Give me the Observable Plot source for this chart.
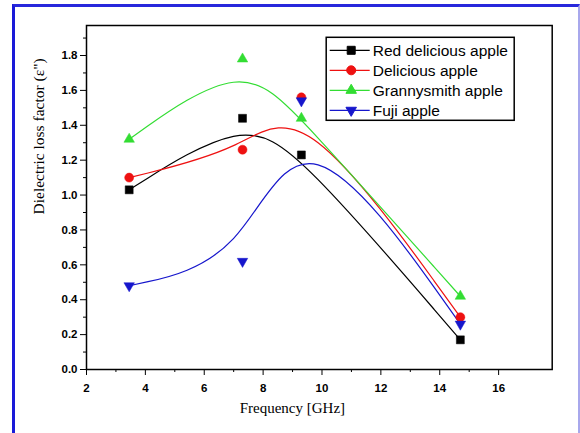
<!DOCTYPE html>
<html>
<head>
<meta charset="utf-8">
<script src="https://cdn.jsdelivr.net/npm/d3@7"></script>
<script src="https://cdn.jsdelivr.net/npm/@observablehq/plot@0.6"></script>
<style>
  html, body { margin: 0; padding: 0; background: #fff; overflow: hidden; }
  #wrap { position: relative; width: 580px; height: 433px; background: #fff; }
  #wrap svg { position: absolute; left: 0; top: 0; background: #fff; }
  #border {
    position: absolute; left: 12px; top: 4px; width: 563px; height: 426px;
    border-left: 3px solid #1a1ad8; border-top: 3px solid #2828dc;
    border-right: 2px solid #a8a8ec; border-bottom: 2px solid #a8a8ec;
    pointer-events: none;
  }
</style>
</head>
<body>
<div id="wrap"><div id="border"></div></div>
<script>
// ---- data ----
const freq = [3.45, 7.3, 9.3, 14.7];
const redDelicious = [1.03, 1.44, 1.23, 0.17];
const delicious = [1.10, 1.26, 1.56, 0.30];
const grannySmith = [1.32, 1.78, 1.44, 0.42];
const fuji = [0.48, 0.62, 1.54, 0.26];
const seriesNames = ["Red delicious apple", "Delicious apple", "Grannysmith apple", "Fuji apple"];
const seriesColors = ["#000000", "#ee1111", "#33dd33", "#1616cc"];
const xTicks = [2, 4, 6, 8, 10, 12, 14, 16];
const xMinorTicks = [3, 5, 7, 9, 11, 13, 15];
const yTicks = [0, 0.2, 0.4, 0.6, 0.8, 1.0, 1.2, 1.4, 1.6, 1.8];
const yMinorTicks = [0.1, 0.3, 0.5, 0.7, 0.9, 1.1, 1.3, 1.5, 1.7, 1.9];
const xLabel = "Frequency [GHz]";
const yLabel = "Dielectric loss factor (ε\")";

const seriesValues = [redDelicious, delicious, grannySmith, fuji];

const triangleDown = {
  draw(context, size) {
    const s3 = Math.sqrt(3);
    const y = -Math.sqrt(size / (s3 * 3));
    context.moveTo(0, -y * 2);
    context.lineTo(-s3 * y, y);
    context.lineTo(s3 * y, y);
    context.closePath();
  }
};
const seriesSymbols = ["square", "circle", "triangle", triangleDown];
const seriesR = [4.5, 4.5, 3.9, 3.9];

const series = seriesNames.map((name, si) =>
  freq.map((f, i) => ({series: name, freq: f, value: seriesValues[si][i]}))
);

const tickFont = {fontFamily: "Liberation Sans, Arial, sans-serif", fontSize: 11.5, fontWeight: "bold"};

function legendMark(index, scales, values, dimensions) {
  const {width, marginRight, marginTop} = dimensions;
  const frameRight = width - marginRight;
  const bw = 188, bh = 83;
  const x0 = frameRight - 37.5 - bw, y0 = marginTop + 12.3;
  const g = d3.create("svg:g").attr("text-anchor", "start");
  g.append("rect").attr("x", x0).attr("y", y0).attr("width", bw).attr("height", bh)
    .attr("fill", "#fff").attr("stroke", "#000").attr("stroke-width", 1.5);
  seriesNames.forEach((name, i) => {
    const cy = y0 + 13 + 20 * i;
    const col = seriesColors[i];
    g.append("line").attr("x1", x0 + 3.5).attr("x2", x0 + 43.5).attr("y1", cy).attr("y2", cy)
      .attr("stroke", col).attr("stroke-width", 1.3);
    const sym = seriesSymbols[i];
    const type = typeof sym === "string"
      ? ({square: d3.symbolSquare, circle: d3.symbolCircle, triangle: d3.symbolTriangle})[sym]
      : sym;
    const r = seriesR[i];
    g.append("path").attr("transform", `translate(${x0 + 25},${cy})`)
      .attr("d", d3.symbol(type, Math.PI * r * r)())
      .attr("fill", col).attr("stroke", col);
    g.append("text").attr("x", x0 + 46.5).attr("y", cy).attr("dy", "0.35em")
      .attr("text-anchor", "start")
      .attr("font-family", "Liberation Sans, Arial, sans-serif").attr("font-size", 15.5)
      .attr("fill", "#000").text(name);
  });
  return g.node();
}

const marks = [
  Plot.frame({stroke: "#000", strokeWidth: 1.5}),
  Plot.axisX({ticks: xTicks, tickSize: 6, tickPadding: 8, tickFormat: d3.format("d"), label: null, ...tickFont}),
  Plot.axisX({ticks: xMinorTicks, tickSize: 3, tickFormat: () => "", label: null}),
  Plot.axisY({ticks: yTicks, tickSize: 6, tickPadding: 3, tickFormat: d3.format(".1f"), label: null, ...tickFont}),
  Plot.axisY({ticks: yMinorTicks, tickSize: 3, tickFormat: () => "", label: null}),
  Plot.text([xLabel], {text: d => d, frameAnchor: "bottom", dx: -27, dy: 43,
    fontFamily: "Liberation Serif, Times New Roman, serif", fontSize: 15}),
  Plot.text([yLabel], {text: d => d, frameAnchor: "left", dx: -47, dy: 17, rotate: -90,
    fontFamily: "Liberation Serif, Times New Roman, serif", fontSize: 15.5})
];
series.forEach((rows, i) => {
  marks.push(Plot.line(rows, {x: "freq", y: "value", curve: "basis", stroke: seriesColors[i], strokeWidth: 1.2}));
});
series.forEach((rows, i) => {
  marks.push(Plot.dot(rows, {x: "freq", y: "value", symbol: seriesSymbols[i], r: seriesR[i],
    fill: seriesColors[i], stroke: seriesColors[i], strokeWidth: 0.5}));
});
marks.push(legendMark);

const chart = Plot.plot({
  width: 580,
  height: 433,
  marginLeft: 86,
  marginRight: 28.3,
  marginTop: 25,
  marginBottom: 64,
  x: {domain: [2, 17.82], axis: null},
  y: {domain: [0, 1.972], axis: null},
  style: {background: "#fff", color: "#000", overflow: "visible"},
  marks
});
document.getElementById("wrap").insertBefore(chart, document.getElementById("border"));
</script>
</body>
</html>
